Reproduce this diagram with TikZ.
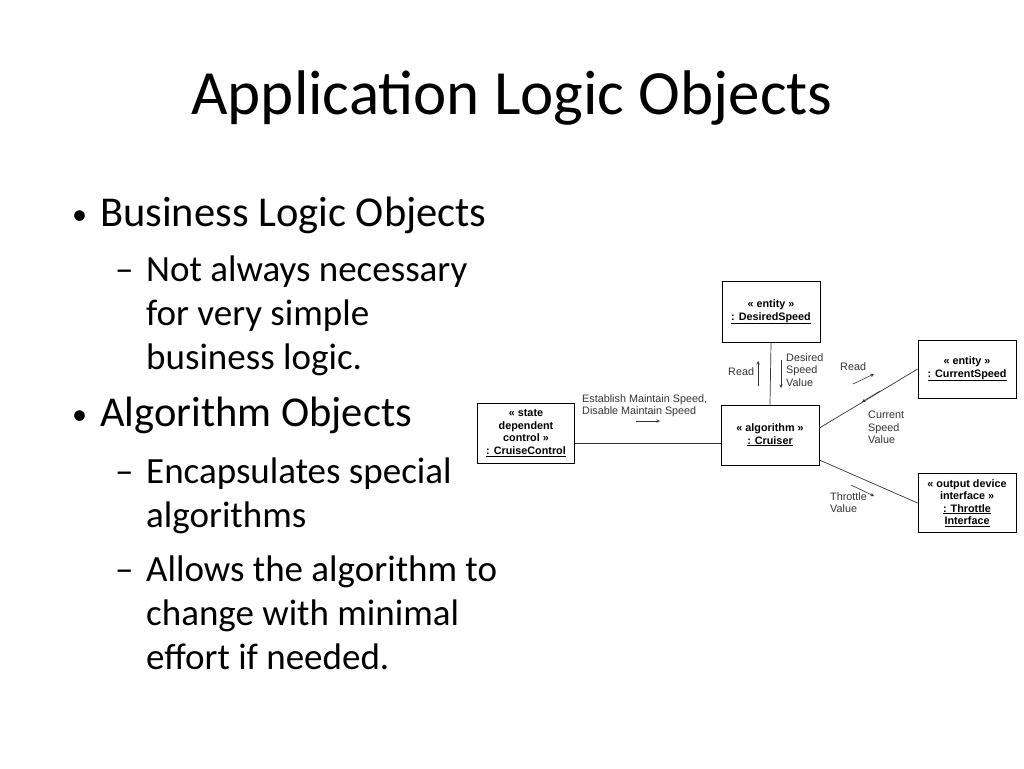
\documentclass[tikz,border=0pt]{standalone}
\usepackage{fontspec}
\setmainfont{Carlito}
\newfontfamily\diag{Liberation Sans}
\begin{document}
\begin{tikzpicture}[x=1pt,y=-1pt,
  obj/.style={draw,line width=0.8pt,fill=white,font=\diag\bfseries\fontsize{10.8}{12.5}\selectfont,align=center,inner sep=0pt},
  lab/.style={font=\diag\fontsize{10.8}{12.5}\selectfont,align=left,anchor=north west,inner sep=0pt,text=black!80},
  ln/.style={line width=0.7pt,draw=black!80},
  ar/.style={-stealth,line width=0.6pt,draw=black!80},
  big/.style={anchor=base west,inner sep=0pt,font=\fontsize{42.5}{50}\selectfont},
  dot/.style={anchor=base west,inner sep=0pt,font=\fontsize{30}{36}\selectfont},
  sub/.style={anchor=base west,inner sep=0pt,font=\fontsize{37}{44}\selectfont}]
\useasboundingbox (0,0) rectangle (1024,768);
\node[font=\fontsize{63}{70}\selectfont] (title) at (512,98) {Application Logic Objects};
\node[dot] (d1) at (72,224) {•};
\node[big] (b1) at (100,226) {Business Logic Objects};
\node[sub] (e1) at (115,281) {–};
\node[sub] (s1a) at (146,281) {Not always necessary};
\node[sub] (s1b) at (146,325) {for very simple};
\node[sub] (s1c) at (146,369) {business logic.};
\node[dot] (d2) at (72,424) {•};
\node[big] (b2) at (100,426) {Algorithm Objects};
\node[sub] (e2) at (115,483) {–};
\node[sub] (s2a) at (146,483) {Encapsulates special};
\node[sub] (s2b) at (146,527) {algorithms};
\node[sub] (e3) at (115,581) {–};
\node[sub] (s3a) at (146,581) {Allows the algorithm to};
\node[sub] (s3b) at (146,625) {change with minimal};
\node[sub] (s3c) at (146,669) {effort if needed.};
% diagram
\node[obj,minimum width=98pt,minimum height=61pt] (ds) at (771,312) {« entity »\\\underline{: DesiredSpeed}};
\node[obj,minimum width=98pt,minimum height=60pt] (cr) at (770,435) {« algorithm »\\\underline{: Cruiser}};
\node[obj,minimum width=97pt,minimum height=60pt] (cc) at (526,433) {« state\\dependent\\control »\\\underline{: CruiseControl}};
\node[obj,minimum width=98pt,minimum height=58pt] (cs) at (967,369) {« entity »\\\underline{: CurrentSpeed}};
\node[obj,minimum width=98pt,minimum height=59pt] (th) at (967,503) {« output device\\interface »\\\underline{: Throttle}\\\underline{Interface}};
\coordinate (c1) at (cr.east |- 0,428);
\coordinate (c2) at (cr.east |- 0,460);
\draw[ln] (cc.east |- 0,443) -- (cr.west |- 0,443);
\draw[ln] (cr.north) -- (ds.south);
\draw[ln] (c1) -- (cs.west);
\draw[ln] (c2) -- (th.west);
\node[lab] (l1) at (582,394) {Establish Maintain Speed,\\Disable Maintain Speed};
\draw[ar] (636,421) -- (660,421);
\node[lab] (l2) at (728,367) {Read};
\draw[ar] (758,386) -- (758,361);
\node[lab] (l3) at (786,353) {Desired\\Speed\\Value};
\draw[ar] (781,360) -- (781,388);
\node[lab] (l4) at (840,362) {Read};
\draw[ar] (853,384) -- (874,374);
\draw[ar] (880,391) -- (862,402);
\node[lab] (l5) at (868,411) {Current\\Speed\\Value};
\draw[ar] (851,485) -- (874,496);
\node[lab] (l6) at (830,492) {Throttle\\Value};
\end{tikzpicture}
\end{document}
